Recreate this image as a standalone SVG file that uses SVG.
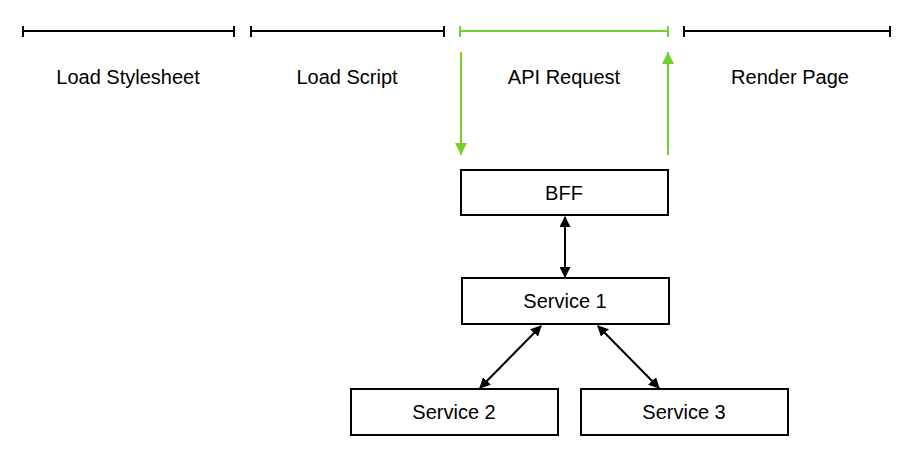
<svg xmlns="http://www.w3.org/2000/svg" width="908" height="460" viewBox="0 0 908 460">
<style>
text{font-family:"Liberation Sans",Arial,sans-serif;font-size:20px;fill:#000;text-anchor:middle;dominant-baseline:central}
.bar{stroke:#000;stroke-width:2;fill:none}
.g{stroke:#72d12a;stroke-width:2;fill:none}
.box{fill:#fff;stroke:#000;stroke-width:2}
.c{stroke:#000;stroke-width:2;fill:none}
</style>
<defs>
<marker id="ab" viewBox="0 0 10 10" refX="9" refY="5" markerWidth="11" markerHeight="11" orient="auto-start-reverse" markerUnits="userSpaceOnUse">
<path d="M0,0 L10,5 L0,10 z" fill="#000"/>
</marker>
<marker id="ag" viewBox="0 0 10 10" refX="10" refY="5" markerWidth="12" markerHeight="12" orient="auto" markerUnits="userSpaceOnUse">
<path d="M0,0 L10,5 L0,10 z" fill="#72d12a"/>
</marker>
</defs>
<g id="timeline">
<path class="bar" d="M23,31 H234 M23,26 V37 M234,26 V37"/>
<path class="bar" d="M251,31 H444 M251,26 V37 M444,26 V37"/>
<path class="g" d="M460,31 H668 M460,26 V37 M668,26 V37"/>
<path class="bar" d="M684,31 H890 M684,26 V37 M890,26 V37"/>
<text x="128" y="77">Load Stylesheet</text>
<text x="347" y="77">Load Script</text>
<text x="564" y="77">API Request</text>
<text x="790" y="77">Render Page</text>
</g>
<g id="connectors">
<line class="g" x1="461" y1="52" x2="461" y2="155" marker-end="url(#ag)"/>
<line class="g" x1="668" y1="155" x2="668" y2="52" marker-end="url(#ag)"/>
<line class="c" x1="565" y1="217" x2="565" y2="277" marker-start="url(#ab)" marker-end="url(#ab)"/>
<line class="c" x1="480" y1="388" x2="541" y2="326" marker-start="url(#ab)" marker-end="url(#ab)"/>
<line class="c" x1="598" y1="326" x2="659" y2="388" marker-start="url(#ab)" marker-end="url(#ab)"/>
</g>
<g id="bff"><rect class="box" x="461" y="170" width="207" height="45"/><text x="564" y="193">BFF</text></g>
<g id="service1"><rect class="box" x="462" y="278" width="207" height="46"/><text x="565" y="301">Service 1</text></g>
<g id="service2"><rect class="box" x="351" y="389" width="207" height="46"/><text x="454" y="412">Service 2</text></g>
<g id="service3"><rect class="box" x="581" y="389" width="207" height="46"/><text x="684" y="412">Service 3</text></g>
</svg>
